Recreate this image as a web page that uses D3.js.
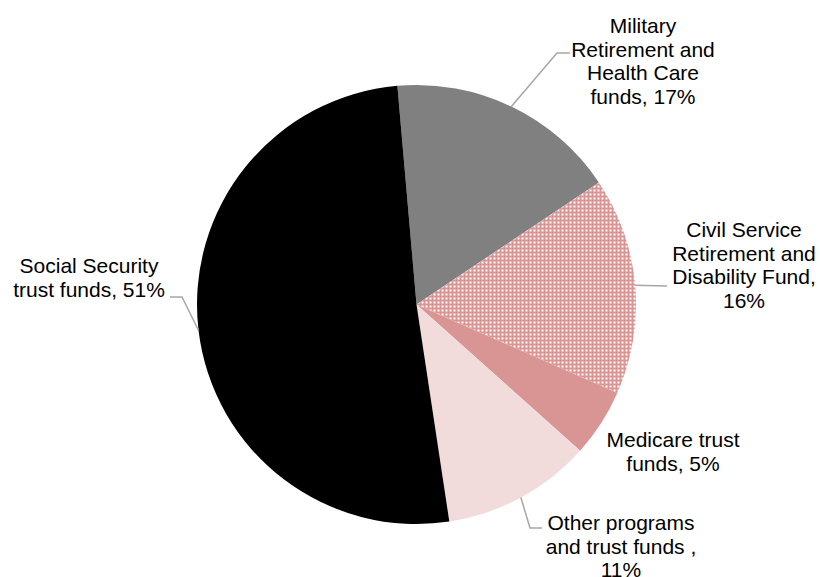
<!DOCTYPE html>
<html>
<head>
<meta charset="utf-8">
<style>
  body { margin: 0; background: #fff; }
  text { font-family: "Liberation Sans", Arial, sans-serif; font-size: 21px; fill: #000; }
</style>
</head>
<body>
<div id="chart"></div>
<script src="https://cdn.jsdelivr.net/npm/d3@7"></script>
<script>
var width = 820, height = 577;

// data
var categories = ['Military Retirement and Health Care funds', 'Civil Service Retirement and Disability Fund',
    'Medicare trust funds', 'Other programs and trust funds', 'Social Security trust funds'];
var shares = [17, 16, 5, 11, 51];
var labelLines = [
    ['Military', 'Retirement and', 'Health Care', 'funds, 17%'],
    ['Civil Service', 'Retirement and', 'Disability Fund,', '16%'],
    ['Medicare trust', 'funds, 5%'],
    ['Other programs', 'and trust funds ,', '11%'],
    ['Social Security', 'trust funds, 51%']
];

// layout of the labels (label centre x, first baseline y, leader elbow & end)
var labelLayout = [
    {x: 643, y: 33, elbow: [557, 53], end: [570, 53]},
    {x: 744, y: 237, elbow: null, end: [667, 286]},
    {x: 673, y: 447, elbow: null, end: null},
    {x: 621, y: 530, elbow: [530, 528], end: [542, 528]},
    {x: 89, y: 273, elbow: [182, 297], end: [170, 297]}
];

var cx = 416.5, cy = 304.5, r = 219.5, lineH = 23.5;

var svg = d3.select('#chart').append('svg')
    .attr('width', width)
    .attr('height', height);

var defs = svg.append('defs');
var pat = defs.append('pattern')
    .attr('id', 'dots')
    .attr('patternUnits', 'userSpaceOnUse')
    .attr('width', 4)
    .attr('height', 4);
pat.append('rect').attr('width', 4).attr('height', 4).attr('fill', '#d99594');
pat.append('rect').attr('x', 1).attr('y', 1).attr('width', 2).attr('height', 2).attr('fill', '#fff');

var fills = ['#808080', 'url(#dots)', '#d99594', '#f2dcdb', '#000000'];

var pie = d3.pie()
    .sort(null)
    .startAngle(-5 * Math.PI / 180)
    .endAngle(355 * Math.PI / 180);

var arc = d3.arc().innerRadius(0).outerRadius(r);

var arcs = pie(shares);

var g = svg.append('g').attr('transform', 'translate(' + cx + ',' + cy + ')');

g.selectAll('path')
    .data(arcs)
    .enter().append('path')
    .attr('d', arc)
    .attr('fill', function(d, i){ return fills[i]; });

// leader lines
arcs.forEach(function(d, i){
    var lay = labelLayout[i];
    if(!lay.end) return;
    var a = (d.startAngle + d.endAngle) / 2;
    var p0 = [cx + r * Math.sin(a), cy - r * Math.cos(a)];
    var pts = [p0];
    if(lay.elbow) pts.push(lay.elbow);
    pts.push(lay.end);
    svg.append('path')
        .attr('d', d3.line()(pts))
        .attr('fill', 'none')
        .attr('stroke', '#a6a6a6')
        .attr('stroke-width', 1.5);
});

// labels
labelLines.forEach(function(lines, i){
    var lay = labelLayout[i];
    var t = svg.append('text').attr('text-anchor', 'middle');
    lines.forEach(function(s, j){
        t.append('tspan')
            .attr('x', lay.x)
            .attr('y', lay.y + j * lineH)
            .text(s);
    });
});
</script>
</body>
</html>
